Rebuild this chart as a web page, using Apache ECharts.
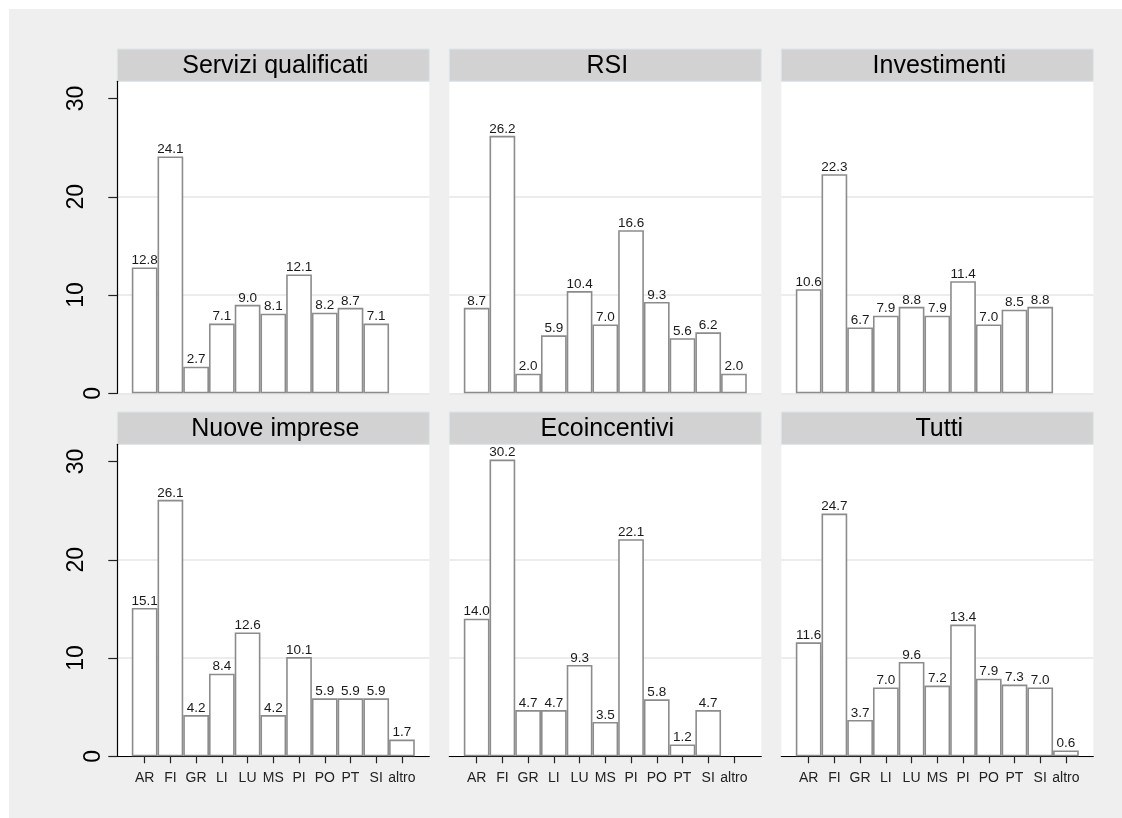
<!DOCTYPE html>
<html>
<head>
<meta charset="utf-8">
<script src="https://cdn.jsdelivr.net/npm/echarts@6/dist/echarts.min.js"></script>
<style>
  html, body { margin: 0; padding: 0; background: #ffffff; }
  #main { width: 1122px; height: 818px; }
</style>
</head>
<body>
<div id="main"></div>
<script>
// ---- data ----
const categories = ['AR', 'FI', 'GR', 'LI', 'LU', 'MS', 'PI', 'PO', 'PT', 'SI', 'altro'];
const panelTitles = ['Servizi qualificati', 'RSI', 'Investimenti', 'Nuove imprese', 'Ecoincentivi', 'Tutti'];
const serviziQualificati = [12.8, 24.1, 2.7, 7.1, 9.0, 8.1, 12.1, 8.2, 8.7, 7.1, null];
const rsi = [8.7, 26.2, 2.0, 5.9, 10.4, 7.0, 16.6, 9.3, 5.6, 6.2, 2.0];
const investimenti = [10.6, 22.3, 6.7, 7.9, 8.8, 7.9, 11.4, 7.0, 8.5, 8.8, null];
const nuoveImprese = [15.1, 26.1, 4.2, 8.4, 12.6, 4.2, 10.1, 5.9, 5.9, 5.9, 1.7];
const ecoincentivi = [14.0, 30.2, 4.7, 4.7, 9.3, 3.5, 22.1, 5.8, 1.2, 4.7, null];
const tutti = [11.6, 24.7, 3.7, 7.0, 9.6, 7.2, 13.4, 7.9, 7.3, 7.0, 0.6];
const yTickValues = [0, 10, 20, 30];
const yAxisMax = 31.75;

const panelData = [serviziQualificati, rsi, investimenti, nuoveImprese, ecoincentivi, tutti];

// ---- layout ----
const FONT = '"Liberation Sans", Arial, Helvetica, sans-serif';
const colLeft = [117.3, 449.3, 781.3];
const plotW = 312;
const plotH = 312;
const titleH = 32.3;
const plotTop = [81.3, 444.3];
const barInset = 14.5;

const grids = [], xAxes = [], yAxes = [], series = [], graphics = [];

graphics.push({
  type: 'rect', z: -10, silent: true,
  shape: { x: 9, y: 9, width: 1122 - 9, height: 818 - 9 },
  style: { fill: '#efefef' }
});

panelTitles.forEach((title, i) => {
  const row = Math.floor(i / 3), col = i % 3;
  const left = colLeft[col], top = plotTop[row];
  const isBottom = row === 1, isLeft = col === 0;

  // title strip
  graphics.push({
    type: 'rect', silent: true,
    shape: { x: left, y: top - titleH, width: plotW, height: titleH },
    style: { fill: '#d2d2d2', stroke: '#dbe5ea', lineWidth: 1 }
  });
  graphics.push({
    type: 'text', silent: true,
    style: {
      text: title, x: left + plotW / 2 + 2, y: top - titleH / 2 + 1,
      textAlign: 'center', textVerticalAlign: 'middle',
      font: '25px ' + FONT, fill: '#000'
    }
  });

  // outer plot region grid (background, y axis, split lines, x axis line)
  const gA = grids.length;
  grids.push({ left: left, top: top, width: plotW, height: plotH, show: true,
               backgroundColor: '#ffffff', borderWidth: 0 });
  xAxes.push({
    gridIndex: gA, type: 'value', min: 0, max: 1, position: 'bottom',
    axisLine: { show: isBottom, onZero: false, lineStyle: { color: '#000', width: 1.2 } },
    axisTick: { show: false }, axisLabel: { show: false }, splitLine: { show: false }
  });
  yAxes.push({
    gridIndex: gA, type: 'value', min: 0, max: yAxisMax, interval: 10,
    axisLine: { show: isLeft, lineStyle: { color: '#000', width: 1.2 } },
    axisTick: { show: isLeft, length: 9, customValues: yTickValues,
                lineStyle: { color: '#222', width: 1.2 } },
    axisLabel: {
      show: isLeft, customValues: yTickValues, rotate: 90, margin: 12,
      fontSize: 23, fontFamily: FONT, color: '#000',
      formatter: v => (v === 0 ? '{z|0}' : '{n|' + v + '}'),
      rich: {
        z: { fontSize: 23, fontFamily: FONT, color: '#000' },
        n: { fontSize: 23, fontFamily: FONT, color: '#000', padding: [0, 0, 17, 0] }
      }
    },
    splitLine: { show: true, showMaxLine: false, lineStyle: { color: '#e6e6e6', width: 1.5 } }
  });

  // inner bar grid
  const gB = grids.length;
  grids.push({ left: left + barInset, top: top, width: plotW - 2 * barInset, height: plotH });
  xAxes.push({
    gridIndex: gB, type: 'category', data: categories,
    axisLine: { show: false },
    axisTick: { show: isBottom, alignWithLabel: true, length: 7,
                lineStyle: { color: '#222', width: 1.2 } },
    axisLabel: { show: isBottom, margin: 15, fontSize: 14, fontFamily: FONT, color: '#222',
                 interval: 0 },
    splitLine: { show: false }
  });
  yAxes.push({ gridIndex: gB, type: 'value', min: 0, max: yAxisMax, show: false,
               splitLine: { show: false } });

  series.push({
    type: 'bar', xAxisIndex: gB, yAxisIndex: gB, data: panelData[i],
    barWidth: '100%', barGap: '0%',
    itemStyle: { color: '#ffffff', borderColor: '#8c8c8c', borderWidth: 1.6 },
    label: { show: true, position: 'top', distance: 0, fontSize: 13.5, fontFamily: FONT,
             color: '#1a1a1a', formatter: p => (p.value == null ? '' : Number(p.value).toFixed(1)) },
    emphasis: { disabled: true },
    animation: false
  });
});

const chart = echarts.init(document.getElementById('main'), null, { renderer: 'canvas' });
chart.setOption({
  backgroundColor: '#ffffff',
  animation: false,
  textStyle: { fontFamily: FONT },
  grid: grids, xAxis: xAxes, yAxis: yAxes, series: series,
  graphic: { elements: graphics }
});
</script>
</body>
</html>
